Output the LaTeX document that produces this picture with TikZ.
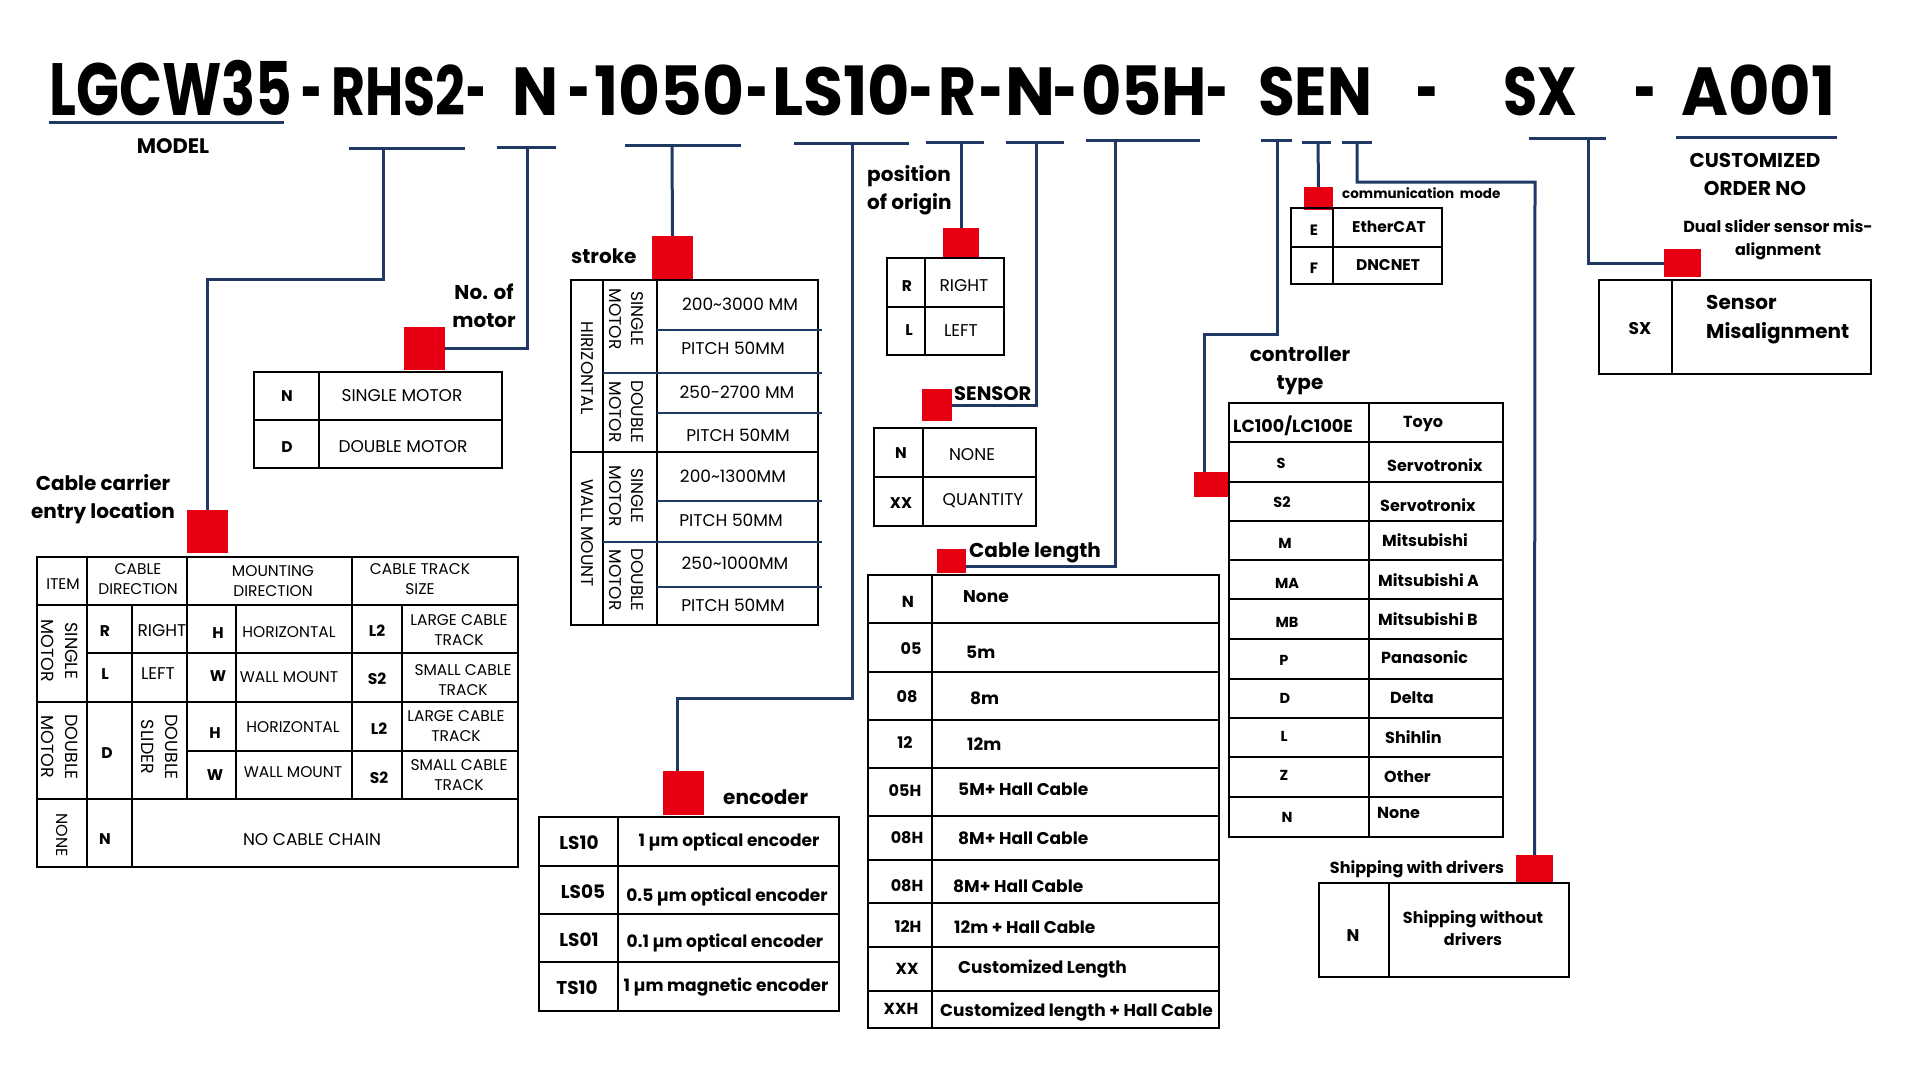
\documentclass[tikz,border=0pt]{standalone}
\usepackage{fontspec}
\setmainfont{Poppins}
\usepackage{graphicx}
\definecolor{navy}{RGB}{31,56,100}
\definecolor{redq}{RGB}{230,0,18}
\newcommand\fs[2]{\fontsize{#1}{#2}\selectfont}
\newcommand\redsq[5]{\node[rsq,minimum width=#4pt,minimum height=#5pt] (#1) at (#2,#3) {};}
\begin{document}
\begin{tikzpicture}[x=1pt,y=-1pt,
 tl/.style={draw=black,line width=2.4pt,line cap=rect},
 nl/.style={draw=navy,line width=3pt},
 nlt/.style={draw=navy,line width=2pt},
 rsq/.style={fill=redq,draw=none,inner sep=0pt,outer sep=0pt,anchor=north west},
 ttl/.style={inner sep=0pt,anchor=base west,font=\bfseries\fs{68}{68}},
 tds/.style={inner sep=0pt,anchor=base,font=\bfseries\fs{68}{68}},
 hd/.style={inner sep=0pt,font=\bfseries\fs{20}{28},align=center},
 tb/.style={inner sep=0pt,font=\bfseries\fs{15.5}{18},align=center},
 tr/.style={inner sep=0pt,font=\fs{15.5}{20},align=center},
 trr/.style={inner sep=0pt,font=\fs{17.5}{24},align=center,rotate=-90},
 sr/.style={inner sep=0pt,font=\fs{17}{22},align=center},
 srr/.style={inner sep=0pt,font=\fs{17}{22},align=center,rotate=-90},
 db/.style={inner sep=0pt,font=\bfseries\fs{17}{21},align=center},
 cb/.style={inner sep=0pt,font=\bfseries\fs{16}{18},align=center}]
\useasboundingbox (0,0) rectangle (1920,1080);
\fill[white] (0,0) rectangle (1920,1080);

% ---------- title ----------
\node[ttl] (tA) at (49,115) {\fs{74}{74}\resizebox{243pt}{\height}{LGCW35}};
\node[tds] (tA2) at (312,115) {\resizebox{21pt}{\height}{-}};
\node[ttl] (tB) at (331,115) {\resizebox{134pt}{\height}{RHS2}};
\node[tds] (tB2) at (476,115) {\resizebox{20pt}{\height}{-}};
\node[ttl] (tC) at (512,115) {\resizebox{46pt}{\height}{N}};
\node[tds] (tC2) at (579,115) {\resizebox{22pt}{\height}{-}};
\node[ttl] (tD) at (594,115) {\resizebox{150pt}{\height}{1050}};
\node[tds] (tD2) at (757,115) {\resizebox{22pt}{\height}{-}};
\node[ttl] (tE) at (772,115) {\resizebox{138pt}{\height}{LS10}};
\node[tds] (tE2) at (921,115) {\resizebox{24pt}{\height}{-}};
\node[ttl] (tF) at (938,115) {\resizebox{38pt}{\height}{R}};
\node[tds] (tF2) at (991,115) {\resizebox{24pt}{\height}{-}};
\node[ttl] (tG) at (1005,115) {\resizebox{50pt}{\height}{N}};
\node[tds] (tG2) at (1065,115) {\resizebox{24pt}{\height}{-}};
\node[ttl] (tH) at (1081,115) {\resizebox{126pt}{\height}{05H}};
\node[tds] (tH2) at (1217,115) {\resizebox{22pt}{\height}{-}};
\node[ttl] (tI) at (1258,115) {\resizebox{114pt}{\height}{SEN}};
\node[tds] (tJ) at (1427,115) {\resizebox{22pt}{\height}{-}};
\node[ttl] (tK) at (1503,115) {\resizebox{74pt}{\height}{SX}};
\node[tds] (tL) at (1645,115) {\resizebox{22pt}{\height}{-}};
\node[ttl] (tM) at (1681,115) {\resizebox{154pt}{\height}{A001}};

% underlines
\draw[nl] (49,122) -- (284,122);
\draw[nl] (349,148) -- (465,148);
\draw[nl] (497,147) -- (556,147);
\draw[nl] (625,145) -- (741,145);
\draw[nl] (794,143) -- (909,143);
\draw[nl] (926,142) -- (984,142);
\draw[nl] (1006,142) -- (1064,142);
\draw[nl] (1086,140) -- (1200,140);
\draw[nl] (1261,140) -- (1292,140);
\draw[nl] (1302,142) -- (1331,142);
\draw[nl] (1342,142) -- (1372,142);
\draw[nl] (1529,138) -- (1606,138);
\draw[nl] (1676,137) -- (1837,137);
\coordinate (uRHS) at (383,148);
\coordinate (uN) at (527,147);
\coordinate (u1050) at (672,145);
\coordinate (uLS) at (852,143);
\coordinate (uR) at (961,142);
\coordinate (uN2) at (1036,142);
\coordinate (u05H) at (1115,140);
\coordinate (uS) at (1277,140);
\coordinate (uE) at (1318,142);
\coordinate (uNs) at (1357,142);
\coordinate (uSX) at (1588,138);

\node[inner sep=0pt,font=\bfseries\fs{21}{21}] (lModel) at (173,146) {MODEL};
\node[inner sep=0pt,font=\bfseries\fs{20}{28},align=center] (lCust) at (1755,174) {CUSTOMIZED\\ORDER NO};

% ---------- red squares ----------
\redsq{rsCable}{187}{510}{41}{43}
\redsq{rsMotor}{404}{327}{41}{43}
\redsq{rsStroke}{652}{236}{41}{43}
\redsq{rsEnc}{663}{771}{41}{44}
\redsq{rsOrigin}{943}{228}{36}{30}
\redsq{rsSensor}{922}{389}{30}{32}
\redsq{rsLen}{937}{549}{29}{24}
\redsq{rsCtrl}{1194}{472}{35}{25}
\redsq{rsComm}{1304}{187}{29}{23}
\redsq{rsShip}{1516}{855}{37}{28}
\redsq{rsSX}{1664}{249}{37}{28}

% ---------- connectors ----------
\draw[nl] (uRHS) -- (383,279) -- (rsCable.north |- 0,279) -- (rsCable.north);
\draw[nl] (uN) |- (rsMotor.east);
\draw[nl] (u1050) -- (rsStroke.north);
\draw[nl] (uLS) -- (852,698) -- (677,698) -- (rsEnc.north -| 677,0);
\draw[nl] (uR) -- (rsOrigin.north);
\draw[nl] (uN2) |- (rsSensor.east);
\draw[nl] (u05H) -- (1115,566) -- (rsLen.east |- 0,566);
\draw[nl] (uS) -- (1277,334) -- (1204,334) -- (rsCtrl.north -| 1204,0);
\draw[nl] (uE) -- (rsComm.north);
\draw[nl] (uNs) -- (1357,182) -- (1535,182) -- (rsShip.north);
\draw[nl] (uSX) |- (rsSX.west);

% ---------- cable carrier ----------
\node[hd] (hCable) at (103,499) {Cable carrier\\entry location};
\draw[tl] (37,557) rectangle (518,867);
\draw[tl] (87,557) -- (87,867);
\draw[tl] (132,605) -- (132,867);
\draw[tl] (187,557) -- (187,799);
\draw[tl] (236,605) -- (236,799);
\draw[tl] (352,557) -- (352,799);
\draw[tl] (402,605) -- (402,799);
\draw[tl] (37,605) -- (518,605);
\draw[tl] (87,653) -- (518,653);
\draw[tl] (37,702) -- (518,702);
\draw[tl] (187,751) -- (518,751);
\draw[tl] (37,799) -- (518,799);
\node[tr] (cc1) at (63,584) {ITEM};
\node[tr] (cc2) at (138,579) {CABLE\\DIRECTION};
\node[tr] (cc3) at (273,581) {MOUNTING\\DIRECTION};
\node[tr] (cc4) at (420,579) {CABLE TRACK\\SIZE};
\node[trr] (cc5) at (60,651) {SINGLE\\MOTOR};
\node[tb] (cc6) at (105,631) {R};
\node[tr,font=\fs{17}{20}] (cc7) at (162,631) {RIGHT};
\node[tb] (cc8) at (218,633) {H};
\node[tr] (cc9) at (289,632) {HORIZONTAL};
\node[tb] (cc10) at (377,631) {L2};
\node[tr] (cc11) at (459,630) {LARGE CABLE\\TRACK};
\node[tb] (cc12) at (105,674) {L};
\node[tr,font=\fs{17}{20}] (cc13) at (158,674) {LEFT};
\node[tb] (cc14) at (218,676) {W};
\node[tr] (cc15) at (289,677) {WALL MOUNT};
\node[tb] (cc16) at (377,679) {S2};
\node[tr] (cc17) at (463,680) {SMALL CABLE\\TRACK};
\node[trr] (cc18) at (60,747) {DOUBLE\\MOTOR};
\node[tb] (cc19) at (107,753) {D};
\node[trr] (cc20) at (160,747) {DOUBLE\\SLIDER};
\node[tb] (cc21) at (215,733) {H};
\node[tr] (cc22) at (293,727) {HORIZONTAL};
\node[tb] (cc23) at (379,729) {L2};
\node[tr] (cc24) at (456,726) {LARGE CABLE\\TRACK};
\node[tb] (cc25) at (215,775) {W};
\node[tr] (cc26) at (293,772) {WALL MOUNT};
\node[tb] (cc27) at (379,778) {S2};
\node[tr] (cc28) at (459,775) {SMALL CABLE\\TRACK};
\node[trr,font=\fs{16}{20}] (cc29) at (62,835) {NONE};
\node[tb] (cc30) at (105,839) {N};
\node[sr] (cc31) at (312,840) {NO CABLE CHAIN};

% ---------- no. of motor ----------
\node[hd] (hMotor) at (484,306) {No. of\\motor};
\draw[tl] (254,372) rectangle (502,468);
\draw[tl] (319,372) -- (319,468);
\draw[tl] (254,420) -- (502,420);
\node[tb] (nm1) at (287,396) {N};
\node[sr] (nm2) at (402,396) {SINGLE MOTOR};
\node[tb] (nm3) at (287,447) {D};
\node[sr] (nm4) at (403,447) {DOUBLE MOTOR};

% ---------- stroke ----------
\node[hd,anchor=base west] (hStroke) at (571,263) {stroke};
\draw[tl] (571,280) rectangle (818,625);
\draw[tl] (603,280) -- (603,625);
\draw[tl] (657,280) -- (657,625);
\draw[tl] (571,452) -- (818,452);
\foreach \y in {330,413,501,587} \draw[nlt] (657,\y) -- (822,\y);
\foreach \y in {373,542} \draw[nlt] (603,\y) -- (822,\y);
\node[srr] (st1) at (587,368) {HIRIZONTAL};
\node[srr] (st2) at (587,533) {WALL MOUNT};
\node[srr] (st3) at (626,319) {SINGLE\\MOTOR};
\node[srr] (st4) at (626,412) {DOUBLE\\MOTOR};
\node[srr] (st5) at (626,496) {SINGLE\\MOTOR};
\node[srr] (st6) at (626,580) {DOUBLE\\MOTOR};
\node[sr] (sv1) at (740,304) {200\textasciitilde3000 MM};
\node[sr] (sv2) at (733,348) {PITCH 50MM};
\node[sr] (sv3) at (737,392) {250-2700 MM};
\node[sr] (sv4) at (738,435) {PITCH 50MM};
\node[sr] (sv5) at (733,476) {200\textasciitilde1300MM};
\node[sr] (sv6) at (731,520) {PITCH 50MM};
\node[sr] (sv7) at (735,563) {250\textasciitilde1000MM};
\node[sr] (sv8) at (733,605) {PITCH 50MM};

% ---------- encoder ----------
\node[hd,anchor=base west] (hEnc) at (723,804) {encoder};
\draw[tl] (539,817) rectangle (839,1011);
\draw[tl] (618,817) -- (618,1011);
\foreach \y in {866,914,962} \draw[tl] (539,\y) -- (839,\y);
\node[cb,font=\bfseries\fs{18.5}{20}] (en1) at (579,843) {LS10};
\node[cb,font=\bfseries\fs{18.5}{20}] (en2) at (583,892) {LS05};
\node[cb,font=\bfseries\fs{18.5}{20}] (en3) at (579,940) {LS01};
\node[cb,font=\bfseries\fs{18.5}{20}] (en4) at (577,988) {TS10};
\node[db] (ed1) at (729,842) {1 µm optical encoder};
\node[db] (ed2) at (727,897) {0.5 µm optical encoder};
\node[db] (ed3) at (725,943) {0.1 µm optical encoder};
\node[db] (ed4) at (726,987) {1 µm magnetic encoder};

% ---------- position of origin ----------
\node[hd,anchor=west,align=left] (hOrig) at (867,190) {position\\of origin};
\draw[tl] (887,258) rectangle (1004,355);
\draw[tl] (925,258) -- (925,355);
\draw[tl] (887,307) -- (1004,307);
\node[tb] (po1) at (907,286) {R};
\node[sr] (po2) at (964,286) {RIGHT};
\node[tb] (po3) at (909,330) {L};
\node[sr] (po4) at (961,331) {LEFT};

% ---------- sensor ----------
\node[inner sep=0pt,font=\bfseries\fs{19.5}{19},anchor=base west] (hSens) at (954,400) {SENSOR};
\draw[tl] (874,428) rectangle (1036,526);
\draw[tl] (923,428) -- (923,526);
\draw[tl] (874,477) -- (1036,477);
\node[tb] (se1) at (901,453) {N};
\node[sr] (se2) at (972,455) {NONE};
\node[tb] (se3) at (901,503) {XX};
\node[sr] (se4) at (983,501) {QUANTITY};

% ---------- cable length ----------
\node[hd,anchor=base west] (hLen) at (969,557) {Cable length};
\draw[tl] (868,575) rectangle (1219,1028);
\draw[tl] (932,575) -- (932,1028);
\foreach \y in {623,672,720,768,816,860,903,947,991} \draw[tl] (868,\y) -- (1219,\y);
\foreach \i/\cx/\cy/\c/\dx/\dy/\d in {
 1/908/602/N/963/597/{None},
 2/911/649/05/966/652/{5m},
 3/907/697/08/970/698/{8m},
 4/905/743/12/967/744/{12m},
 5/905/791/05H/958/789/{5M+ Hall Cable},
 6/907/838/08H/958/838/{8M+ Hall Cable},
 7/907/886/08H/953/886/{8M+ Hall Cable},
 8/908/927/12H/954/927/{12m + Hall Cable},
 9/907/969/XX/958/969/{Customized Length},
 10/901/1009/XXH/940/1012/{Customized length + Hall Cable}}{
 \node[cb] (lc\i) at (\cx,\cy) {\c};
 \node[db,anchor=west] (ld\i) at (\dx,\dy) {\d};
}

% ---------- controller ----------
\node[hd] (hCtrl) at (1300,371) {controller\\type};
\draw[tl] (1229,403) rectangle (1503,837);
\draw[tl] (1369,403) -- (1369,837);
\foreach \y in {442,482,521,560,599,639,679,718,757,797} \draw[tl] (1229,\y) -- (1503,\y);
\node[tb,font=\bfseries\fs{17.5}{18}] (kc1) at (1293,426) {LC100/LC100E};
\node[cb,anchor=west] (kd1) at (1403,424) {Toyo};
\foreach \i/\cx/\cy/\c/\dx/\dy/\d in {
 2/1281/463/S/1387/465/{Servotronix},
 3/1282/502/S2/1380/505/{Servotronix},
 4/1285/543/M/1382/540/{Mitsubishi},
 5/1287/583/MA/1378/580/{Mitsubishi A},
 6/1287/622/MB/1378/619/{Mitsubishi B},
 7/1284/660/P/1381/657/{Panasonic},
 8/1285/698/D/1390/698/{Delta},
 9/1284/736/L/1385/737/{Shihlin},
 10/1284/775/Z/1384/777/{Other},
 11/1287/817/N/1377/813/{None}}{
 \node[tb,font=\bfseries\fs{14.5}{18}] (kc\i) at (\cx,\cy) {\c};
 \node[cb,anchor=west] (kd\i) at (\dx,\dy) {\d};
}

% ---------- communication mode ----------
\node[inner sep=0pt,font=\bfseries\fs{13.5}{16},anchor=base west] (hComm) at (1342,198) {communication\ \ mode};
\draw[tl] (1291,208) rectangle (1442,284);
\draw[tl] (1333,208) -- (1333,284);
\draw[tl] (1291,247) -- (1442,247);
\node[tb,font=\bfseries\fs{15}{18}] (cm1) at (1314,230) {E};
\node[tb] (cm2) at (1389,227) {EtherCAT};
\node[tb,font=\bfseries\fs{15}{18}] (cm3) at (1314,268) {F};
\node[tb] (cm4) at (1388,265) {DNCNET};

% ---------- SX ----------
\node[inner sep=0pt,font=\bfseries\fs{16}{23},align=center] (hSX) at (1778,240) {Dual slider sensor mis-\\alignment};
\draw[tl] (1599,280) rectangle (1871,374);
\draw[tl] (1672,280) -- (1672,374);
\node[inner sep=0pt,font=\bfseries\fs{17}{17}] (sx1) at (1640,328) {SX};
\node[inner sep=0pt,font=\bfseries\fs{20}{29},align=left,anchor=west] (sx2) at (1706,320) {Sensor\\Misalignment};

% ---------- shipping ----------
\node[inner sep=0pt,font=\bfseries\fs{16}{16},anchor=base] (hShip) at (1417,873) {Shipping with drivers};
\draw[tl] (1319,883) rectangle (1569,977);
\draw[tl] (1389,883) -- (1389,977);
\node[inner sep=0pt,font=\bfseries\fs{17}{17}] (sh1) at (1353,936) {N};
\node[db,font=\bfseries\fs{16}{22}] (sh2) at (1473,928) {Shipping without\\drivers};
\end{tikzpicture}
\end{document}
